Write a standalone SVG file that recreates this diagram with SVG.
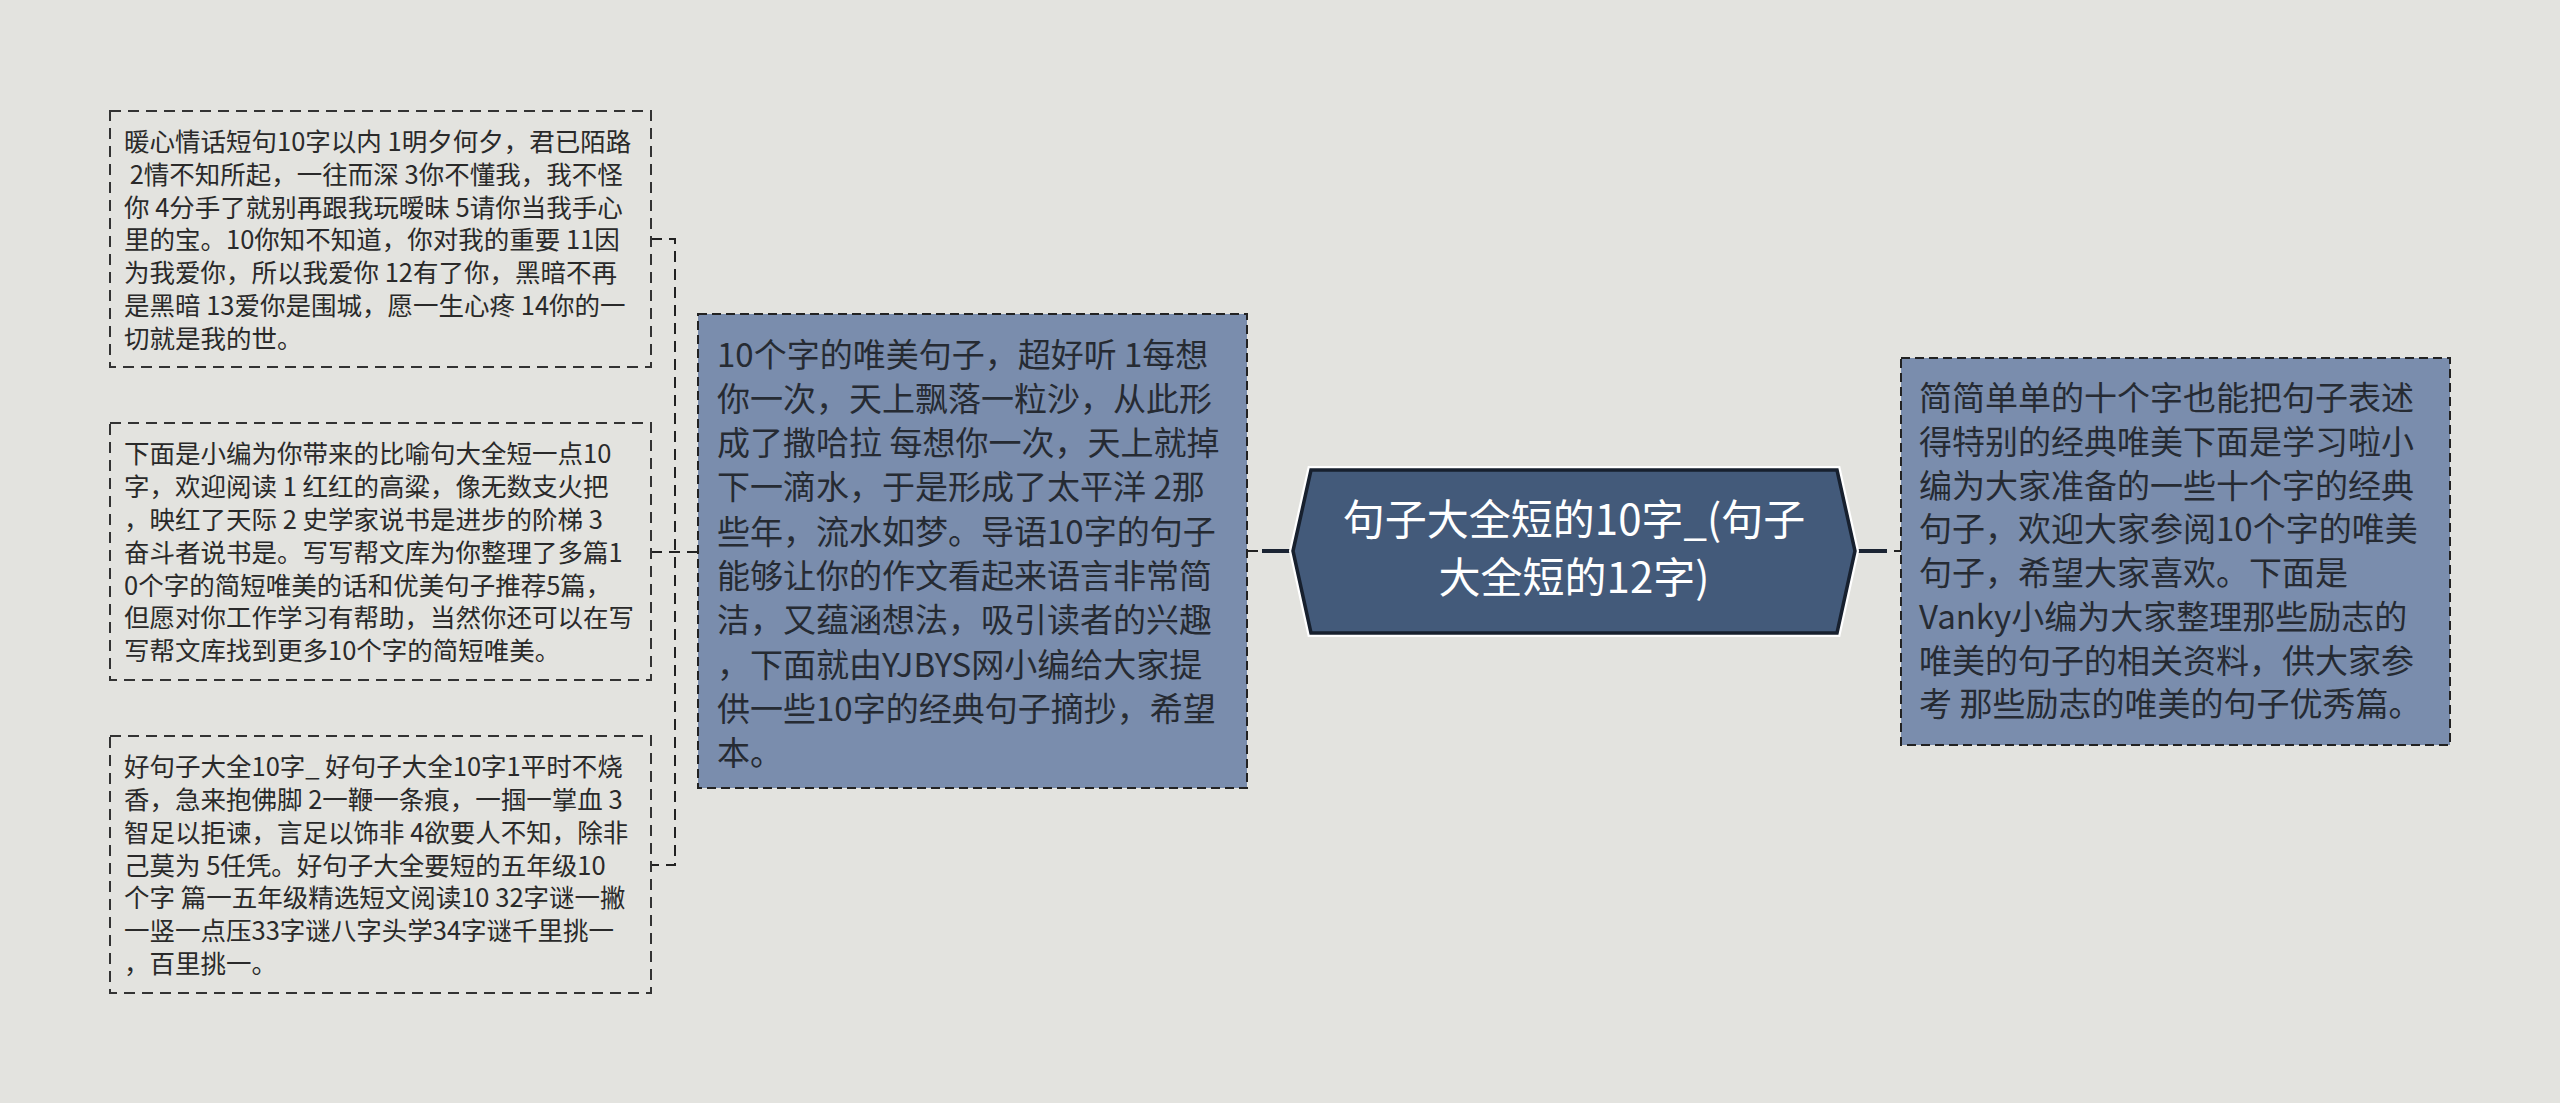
<svg xmlns="http://www.w3.org/2000/svg" width="2560" height="1103" viewBox="0 0 2560 1103">
<style>
.bg{fill:#e3e3df}
.leaf{fill:#e3e3df;stroke:#333;stroke-width:2;stroke-dasharray:11 7}
.sub{fill:#7a8dad;stroke:#222;stroke-width:2;stroke-dasharray:9 5}
.conn{fill:none;stroke:#222;stroke-width:2;stroke-dasharray:11 7}
.solid{fill:none;stroke:#1b2433;stroke-width:4}
.t1{font-family:"Noto Sans CJK SC","Noto Sans",sans-serif;font-size:25.5px;fill:#2a2a2a}
.t2{font-family:"Noto Sans CJK SC","Noto Sans",sans-serif;font-size:33px;fill:#262b33}
.tc{font-family:"Noto Sans CJK SC","Noto Sans",sans-serif;font-size:42px;fill:#ffffff;text-anchor:middle}
</style>
<rect class="bg" x="0" y="0" width="2560" height="1103"/>
<g id="connectors">
  <path class="conn" d="M651 239 H675 V865 H651"/>
  <path class="conn" d="M651 552 H698"/>
  <path class="conn" d="M1247 551 H1258"/>
  <path class="solid" d="M1262 551 H1293"/>
  <path class="solid" d="M1855 551 H1887"/>
  <path class="conn" d="M1894 551 H1901"/>
</g>
<g id="center">
  <polygon points="1293,551 1311,470 1837,470 1855,551 1837,633 1311,633" fill="none" stroke="#ffffff" stroke-width="8"/>
  <polygon points="1293,551 1311,470 1837,470 1855,551 1837,633 1311,633" fill="#435a7a" stroke="#17202e" stroke-width="3.5"/>
  <text class="tc" x="1574" y="535">句子大全短的10字_(句子</text>
  <text class="tc" x="1574" y="593">大全短的12字)</text>
</g>
<g id="node-left-1">
  <rect class="leaf" x="110" y="111" width="541" height="256"/>
  <text class="t1" x="124" y="151">暖心情话短句10字以内 1明夕何夕，君已陌路</text>
  <text class="t1" x="124" y="183.5" xml:space="preserve"> 2情不知所起，一往而深 3你不懂我，我不怪</text>
  <text class="t1" x="124" y="216.5">你 4分手了就别再跟我玩暧昧 5请你当我手心</text>
  <text class="t1" x="124" y="249">里的宝。10你知不知道，你对我的重要 11因</text>
  <text class="t1" x="124" y="282">为我爱你，所以我爱你 12有了你，黑暗不再</text>
  <text class="t1" x="124" y="314.5">是黑暗 13爱你是围城，愿一生心疼 14你的一</text>
  <text class="t1" x="124" y="347.5">切就是我的世。</text>
</g>
<g id="node-left-2">
  <rect class="leaf" x="110" y="423" width="541" height="257"/>
  <text class="t1" x="124" y="463">下面是小编为你带来的比喻句大全短一点10</text>
  <text class="t1" x="124" y="496">字，欢迎阅读 1 红红的高粱，像无数支火把</text>
  <text class="t1" x="124" y="529">，映红了天际 2 史学家说书是进步的阶梯 3</text>
  <text class="t1" x="124" y="561.5">奋斗者说书是。写写帮文库为你整理了多篇1</text>
  <text class="t1" x="124" y="594.5">0个字的简短唯美的话和优美句子推荐5篇，</text>
  <text class="t1" x="124" y="627">但愿对你工作学习有帮助，当然你还可以在写</text>
  <text class="t1" x="124" y="660">写帮文库找到更多10个字的简短唯美。</text>
</g>
<g id="node-left-3">
  <rect class="leaf" x="110" y="736" width="541" height="257"/>
  <text class="t1" x="124" y="776">好句子大全10字_ 好句子大全10字1平时不烧</text>
  <text class="t1" x="124" y="809">香，急来抱佛脚 2一鞭一条痕，一掴一掌血 3</text>
  <text class="t1" x="124" y="841.5">智足以拒谏，言足以饰非 4欲要人不知，除非</text>
  <text class="t1" x="124" y="874.5">己莫为 5任凭。好句子大全要短的五年级10</text>
  <text class="t1" x="124" y="907">个字 篇一五年级精选短文阅读10 32字谜一撇</text>
  <text class="t1" x="124" y="940">一竖一点压33字谜八字头学34字谜千里挑一</text>
  <text class="t1" x="124" y="972.5">，百里挑一。</text>
</g>
<g id="node-middle">
  <rect class="sub" x="698" y="314" width="549" height="474"/>
  <text class="t2" x="717" y="366.5">10个字的唯美句子，超好听 1每想</text>
  <text class="t2" x="717" y="410.5">你一次，天上飘落一粒沙，从此形</text>
  <text class="t2" x="717" y="455">成了撒哈拉 每想你一次，天上就掉</text>
  <text class="t2" x="717" y="499">下一滴水，于是形成了太平洋 2那</text>
  <text class="t2" x="717" y="543.5">些年，流水如梦。导语10字的句子</text>
  <text class="t2" x="717" y="588">能够让你的作文看起来语言非常简</text>
  <text class="t2" x="717" y="632">洁，又蕴涵想法，吸引读者的兴趣</text>
  <text class="t2" x="717" y="676.5">，下面就由YJBYS网小编给大家提</text>
  <text class="t2" x="717" y="720.5">供一些10字的经典句子摘抄，希望</text>
  <text class="t2" x="717" y="765">本。</text>
</g>
<g id="node-right">
  <rect class="sub" x="1901" y="358" width="549" height="387"/>
  <text class="t2" x="1919" y="410">简简单单的十个字也能把句子表述</text>
  <text class="t2" x="1919" y="453.5">得特别的经典唯美下面是学习啦小</text>
  <text class="t2" x="1919" y="497.5">编为大家准备的一些十个字的经典</text>
  <text class="t2" x="1919" y="541">句子，欢迎大家参阅10个字的唯美</text>
  <text class="t2" x="1919" y="585">句子，希望大家喜欢。下面是</text>
  <text class="t2" x="1919" y="628.5">Vanky小编为大家整理那些励志的</text>
  <text class="t2" x="1919" y="672.5">唯美的句子的相关资料，供大家参</text>
  <text class="t2" x="1919" y="716">考 那些励志的唯美的句子优秀篇。</text>
</g>
</svg>
